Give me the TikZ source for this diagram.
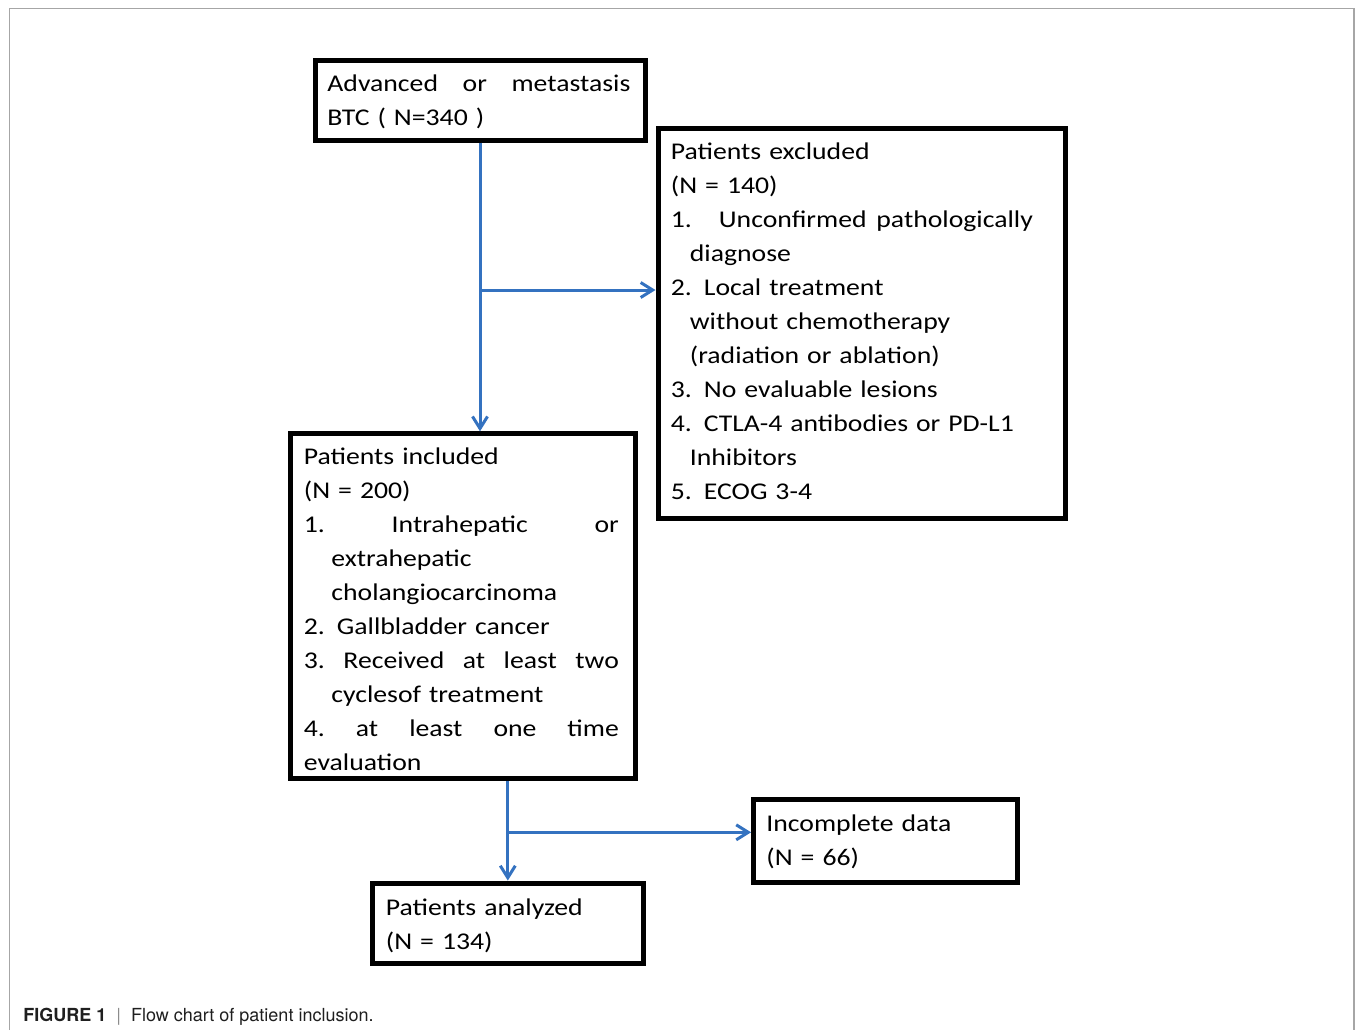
\documentclass[tikz,border=0pt]{standalone}
\usepackage{fontspec}
\setmainfont{Carlito}[FakeStretch=1.155, WordSpace=0.87]
\newfontfamily\capfont{TeX Gyre Heros}
\usetikzlibrary{arrows.meta}
\definecolor{flowblue}{RGB}{52,114,192}
\definecolor{framegray}{RGB}{166,166,166}

\begin{document}
\begin{tikzpicture}[x=0.5pt, y=-0.5pt,
	box/.style={draw, line width=2.5pt, inner sep=0pt},
	txt/.style={anchor=base west, inner sep=0pt, align=left, font=\fontsize{12}{17}\selectfont},
	flow/.style={draw=flowblue, line width=1.5pt, -{Straight Barb[length=6pt, width=7.5pt]}}]
	\useasboundingbox (0,0) rectangle (1355,1030);
	\draw[framegray, line width=0.9pt] (9.5,1030) |- (1353.8,8.5) -- (1353.8,1030);

	% Define the boxes at fixed positions
	\node[box, minimum width=165pt, minimum height=40pt] (btc) at (480, 100) {};
	\node[box, minimum width=203.5pt, minimum height=195pt] (excl) at (861.5, 323.2) {};
	\node[box, minimum width=172.5pt, minimum height=172.5pt] (incl) at (462.9, 606.3) {};
	\node[box, minimum width=131.75pt, minimum height=41.25pt] (incomp) at (885.3, 840.8) {};
	\node[box, minimum width=135.25pt, minimum height=40.25pt] (anal) at (507.8, 923.3) {};

	% Texts in the boxes
	\node[txt, text width=151.5pt] (btcT) at (327, 91.7) {Advanced\hfill or\hfill metastasis\\BTC ( N=340 )};
	\node[txt, text width=181pt] (exclT) at (670.5, 159.3) {Patients excluded\\
		(N = 140)\\
		1.\hspace{13.5pt}Unconfirmed\hfill pathologically\\
		\hspace*{9.5pt}diagnose\\
		2. Local treatment\\
		\hspace*{9.5pt}without chemotherapy\\
		\hspace*{9.5pt}(radiation or ablation)\\
		3. No evaluable lesions\\
		4. CTLA-4 antibodies or PD-L1\\
		\hspace*{9.5pt}Inhibitors\\
		5. ECOG 3-4};
	\node[txt, text width=157.5pt] (inclT) at (303.5, 464.3) {Patients included\\
		(N = 200)\\
		1.\hfill Intrahepatic\hfill or\\
		\hspace*{13.75pt}extrahepatic\\
		\hspace*{13.75pt}cholangiocarcinoma\\
		2. Gallbladder cancer\\
		3.\hfill Received\hfill at\hfill least\hfill two\\
		\hspace*{13.75pt}cyclesof treatment\\
		4.\hfill at\hfill least\hfill one\hfill time\\
		evaluation};
	\node[txt, text width=120pt] (incompT) at (766, 831) {Incomplete data\\(N = 66)};
	\node[txt, text width=120pt] (analT) at (385.5, 915) {Patients analyzed\\(N = 134)};

	% Draw the arrows between the boxes
	\coordinate (j1) at (480, 290);
	\coordinate (j2) at (507.8, 832.3);
	\draw[flow] (btc.south) -- (btc.south |- incl.north);
	\draw[flow] (j1) -- (j1 -| excl.west);
	\draw[flow] (anal.north |- incl.south) -- (anal.north);
	\draw[flow] (j2) -- (j2 -| incomp.west);

	% Caption
	\node[anchor=base west, inner sep=0pt, text=black!88, font=\capfont\fontsize{9}{11}\selectfont] (cap) at (23, 1021.7)
		{\textbf{FIGURE 1}\hspace{5pt}{\color{black!45}|}\hspace{5pt}Flow chart of patient inclusion.};
\end{tikzpicture}
\end{document}
